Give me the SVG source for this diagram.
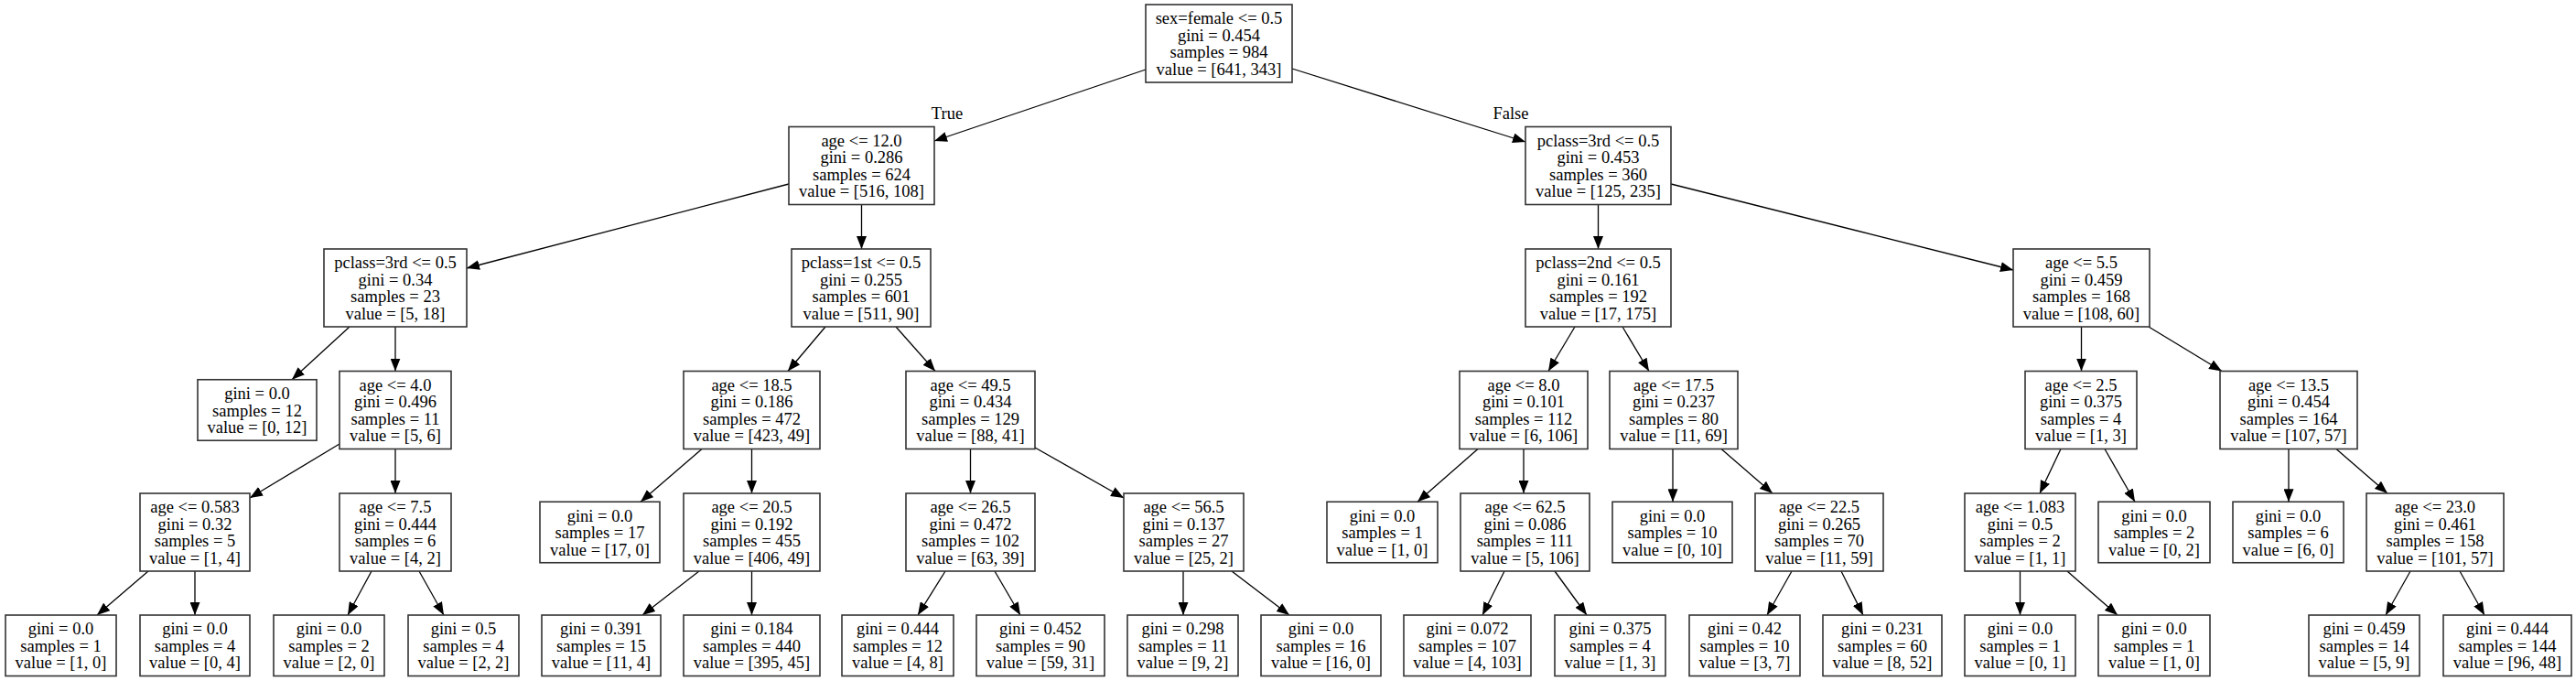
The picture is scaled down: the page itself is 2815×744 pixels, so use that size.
<svg xmlns="http://www.w3.org/2000/svg" width="2815" height="744" viewBox="0 0 2815 744">
<style>
.node rect{fill:#fff;stroke:#333;stroke-width:1.6}
.node text,.lbl{font-family:"Liberation Serif","Times New Roman",serif;font-size:18.5px;fill:#000;text-anchor:middle}
.edges line{stroke:#000;stroke-width:1.3;marker-end:url(#ah)}
</style>
<defs>
<marker id="ah" markerWidth="14" markerHeight="11" refX="14" refY="5.5" orient="auto" markerUnits="userSpaceOnUse"><path d="M0,0 L14,5.5 L0,11 z" fill="#000"/></marker>
</defs>
<rect width="2815" height="744" fill="#fff"/>
<g id="connectors" class="edges">
<line x1="1252" y1="76" x2="1021" y2="154"/>
<line x1="1412" y1="75" x2="1667" y2="155"/>
<line x1="862" y1="201" x2="510" y2="293"/>
<line x1="941.5" y1="223.5" x2="941.5" y2="272"/>
<line x1="382" y1="357" x2="319" y2="414.75"/>
<line x1="432" y1="357" x2="432" y2="405.5"/>
<line x1="371" y1="485" x2="273" y2="544"/>
<line x1="432" y1="490.5" x2="432" y2="539"/>
<line x1="162" y1="624" x2="106" y2="672"/>
<line x1="213" y1="624" x2="213" y2="672"/>
<line x1="406" y1="624" x2="380" y2="672"/>
<line x1="458" y1="624" x2="485" y2="672"/>
<line x1="902" y1="357" x2="861" y2="405.5"/>
<line x1="979" y1="357" x2="1022" y2="405.5"/>
<line x1="767" y1="490.5" x2="700" y2="548.25"/>
<line x1="821.5" y1="490.5" x2="821.5" y2="539"/>
<line x1="764" y1="624" x2="702" y2="672"/>
<line x1="821.5" y1="624" x2="821.5" y2="672"/>
<line x1="1060.5" y1="490.5" x2="1060.5" y2="539"/>
<line x1="1131" y1="489" x2="1228" y2="544"/>
<line x1="1033" y1="624" x2="1003" y2="672"/>
<line x1="1087" y1="624" x2="1115" y2="672"/>
<line x1="1293" y1="624" x2="1293" y2="672"/>
<line x1="1346" y1="624" x2="1409" y2="672"/>
<line x1="1746.5" y1="223.5" x2="1746.5" y2="272"/>
<line x1="1826" y1="201" x2="2200" y2="295"/>
<line x1="1721" y1="357" x2="1692" y2="405.5"/>
<line x1="1773" y1="357" x2="1802" y2="405.5"/>
<line x1="1615" y1="490.5" x2="1549" y2="548.25"/>
<line x1="1665" y1="490.5" x2="1665" y2="539"/>
<line x1="1644" y1="624" x2="1620" y2="672"/>
<line x1="1699" y1="624" x2="1734" y2="672"/>
<line x1="1828" y1="490.5" x2="1828" y2="548.25"/>
<line x1="1881" y1="490.5" x2="1937" y2="539"/>
<line x1="1958" y1="624" x2="1931" y2="672"/>
<line x1="2012" y1="624" x2="2036" y2="672"/>
<line x1="2274.5" y1="357" x2="2274.5" y2="405.5"/>
<line x1="2348" y1="357" x2="2428" y2="405.5"/>
<line x1="2252" y1="490.5" x2="2229" y2="539"/>
<line x1="2300" y1="490.5" x2="2333" y2="548.25"/>
<line x1="2207.5" y1="624" x2="2207.5" y2="672"/>
<line x1="2259" y1="624" x2="2314" y2="672"/>
<line x1="2501" y1="490.5" x2="2501" y2="548.25"/>
<line x1="2553" y1="490.5" x2="2609" y2="539"/>
<line x1="2634" y1="624" x2="2607" y2="672"/>
<line x1="2688" y1="624" x2="2715" y2="672"/>
<text class="lbl" x="1035" y="130">True</text>
<text class="lbl" x="1651" y="130">False</text>
</g>
<g id="n0" class="node"><rect x="1252" y="5" width="160" height="85"/><text x="1332" y="26.25">sex=female &lt;= 0.5</text><text x="1332" y="44.75">gini = 0.454</text><text x="1332" y="63.25">samples = 984</text><text x="1332" y="81.75">value = [641, 343]</text></g>
<g id="n1" class="node"><rect x="862" y="138.5" width="159" height="85"/><text x="941.5" y="159.75">age &lt;= 12.0</text><text x="941.5" y="178.25">gini = 0.286</text><text x="941.5" y="196.75">samples = 624</text><text x="941.5" y="215.25">value = [516, 108]</text></g>
<g id="n2" class="node"><rect x="354" y="272" width="156" height="85"/><text x="432" y="293.25">pclass=3rd &lt;= 0.5</text><text x="432" y="311.75">gini = 0.34</text><text x="432" y="330.25">samples = 23</text><text x="432" y="348.75">value = [5, 18]</text></g>
<g id="n3" class="node"><rect x="216" y="414.75" width="130" height="66.5"/><text x="281" y="436">gini = 0.0</text><text x="281" y="454.5">samples = 12</text><text x="281" y="473">value = [0, 12]</text></g>
<g id="n4" class="node"><rect x="371" y="405.5" width="122" height="85"/><text x="432" y="426.75">age &lt;= 4.0</text><text x="432" y="445.25">gini = 0.496</text><text x="432" y="463.75">samples = 11</text><text x="432" y="482.25">value = [5, 6]</text></g>
<g id="n5" class="node"><rect x="153" y="539" width="120" height="85"/><text x="213" y="560.25">age &lt;= 0.583</text><text x="213" y="578.75">gini = 0.32</text><text x="213" y="597.25">samples = 5</text><text x="213" y="615.75">value = [1, 4]</text></g>
<g id="n6" class="node"><rect x="6" y="672" width="121" height="66.5"/><text x="66.5" y="693.25">gini = 0.0</text><text x="66.5" y="711.75">samples = 1</text><text x="66.5" y="730.25">value = [1, 0]</text></g>
<g id="n7" class="node"><rect x="153" y="672" width="120" height="66.5"/><text x="213" y="693.25">gini = 0.0</text><text x="213" y="711.75">samples = 4</text><text x="213" y="730.25">value = [0, 4]</text></g>
<g id="n8" class="node"><rect x="371" y="539" width="122" height="85"/><text x="432" y="560.25">age &lt;= 7.5</text><text x="432" y="578.75">gini = 0.444</text><text x="432" y="597.25">samples = 6</text><text x="432" y="615.75">value = [4, 2]</text></g>
<g id="n9" class="node"><rect x="299" y="672" width="121" height="66.5"/><text x="359.5" y="693.25">gini = 0.0</text><text x="359.5" y="711.75">samples = 2</text><text x="359.5" y="730.25">value = [2, 0]</text></g>
<g id="n10" class="node"><rect x="446" y="672" width="121" height="66.5"/><text x="506.5" y="693.25">gini = 0.5</text><text x="506.5" y="711.75">samples = 4</text><text x="506.5" y="730.25">value = [2, 2]</text></g>
<g id="n11" class="node"><rect x="865" y="272" width="152" height="85"/><text x="941" y="293.25">pclass=1st &lt;= 0.5</text><text x="941" y="311.75">gini = 0.255</text><text x="941" y="330.25">samples = 601</text><text x="941" y="348.75">value = [511, 90]</text></g>
<g id="n12" class="node"><rect x="747" y="405.5" width="149" height="85"/><text x="821.5" y="426.75">age &lt;= 18.5</text><text x="821.5" y="445.25">gini = 0.186</text><text x="821.5" y="463.75">samples = 472</text><text x="821.5" y="482.25">value = [423, 49]</text></g>
<g id="n13" class="node"><rect x="590" y="548.25" width="131" height="66.5"/><text x="655.5" y="569.5">gini = 0.0</text><text x="655.5" y="588">samples = 17</text><text x="655.5" y="606.5">value = [17, 0]</text></g>
<g id="n14" class="node"><rect x="747" y="539" width="149" height="85"/><text x="821.5" y="560.25">age &lt;= 20.5</text><text x="821.5" y="578.75">gini = 0.192</text><text x="821.5" y="597.25">samples = 455</text><text x="821.5" y="615.75">value = [406, 49]</text></g>
<g id="n15" class="node"><rect x="592" y="672" width="130" height="66.5"/><text x="657" y="693.25">gini = 0.391</text><text x="657" y="711.75">samples = 15</text><text x="657" y="730.25">value = [11, 4]</text></g>
<g id="n16" class="node"><rect x="747" y="672" width="149" height="66.5"/><text x="821.5" y="693.25">gini = 0.184</text><text x="821.5" y="711.75">samples = 440</text><text x="821.5" y="730.25">value = [395, 45]</text></g>
<g id="n17" class="node"><rect x="990" y="405.5" width="141" height="85"/><text x="1060.5" y="426.75">age &lt;= 49.5</text><text x="1060.5" y="445.25">gini = 0.434</text><text x="1060.5" y="463.75">samples = 129</text><text x="1060.5" y="482.25">value = [88, 41]</text></g>
<g id="n18" class="node"><rect x="990" y="539" width="141" height="85"/><text x="1060.5" y="560.25">age &lt;= 26.5</text><text x="1060.5" y="578.75">gini = 0.472</text><text x="1060.5" y="597.25">samples = 102</text><text x="1060.5" y="615.75">value = [63, 39]</text></g>
<g id="n19" class="node"><rect x="920" y="672" width="122" height="66.5"/><text x="981" y="693.25">gini = 0.444</text><text x="981" y="711.75">samples = 12</text><text x="981" y="730.25">value = [4, 8]</text></g>
<g id="n20" class="node"><rect x="1067" y="672" width="140" height="66.5"/><text x="1137" y="693.25">gini = 0.452</text><text x="1137" y="711.75">samples = 90</text><text x="1137" y="730.25">value = [59, 31]</text></g>
<g id="n21" class="node"><rect x="1228" y="539" width="131" height="85"/><text x="1293.5" y="560.25">age &lt;= 56.5</text><text x="1293.5" y="578.75">gini = 0.137</text><text x="1293.5" y="597.25">samples = 27</text><text x="1293.5" y="615.75">value = [25, 2]</text></g>
<g id="n22" class="node"><rect x="1232" y="672" width="121" height="66.5"/><text x="1292.5" y="693.25">gini = 0.298</text><text x="1292.5" y="711.75">samples = 11</text><text x="1292.5" y="730.25">value = [9, 2]</text></g>
<g id="n23" class="node"><rect x="1378" y="672" width="131" height="66.5"/><text x="1443.5" y="693.25">gini = 0.0</text><text x="1443.5" y="711.75">samples = 16</text><text x="1443.5" y="730.25">value = [16, 0]</text></g>
<g id="n24" class="node"><rect x="1667" y="138.5" width="159" height="85"/><text x="1746.5" y="159.75">pclass=3rd &lt;= 0.5</text><text x="1746.5" y="178.25">gini = 0.453</text><text x="1746.5" y="196.75">samples = 360</text><text x="1746.5" y="215.25">value = [125, 235]</text></g>
<g id="n25" class="node"><rect x="1667" y="272" width="159" height="85"/><text x="1746.5" y="293.25">pclass=2nd &lt;= 0.5</text><text x="1746.5" y="311.75">gini = 0.161</text><text x="1746.5" y="330.25">samples = 192</text><text x="1746.5" y="348.75">value = [17, 175]</text></g>
<g id="n26" class="node"><rect x="1595" y="405.5" width="140" height="85"/><text x="1665" y="426.75">age &lt;= 8.0</text><text x="1665" y="445.25">gini = 0.101</text><text x="1665" y="463.75">samples = 112</text><text x="1665" y="482.25">value = [6, 106]</text></g>
<g id="n27" class="node"><rect x="1450" y="548.25" width="121" height="66.5"/><text x="1510.5" y="569.5">gini = 0.0</text><text x="1510.5" y="588">samples = 1</text><text x="1510.5" y="606.5">value = [1, 0]</text></g>
<g id="n28" class="node"><rect x="1596" y="539" width="141" height="85"/><text x="1666.5" y="560.25">age &lt;= 62.5</text><text x="1666.5" y="578.75">gini = 0.086</text><text x="1666.5" y="597.25">samples = 111</text><text x="1666.5" y="615.75">value = [5, 106]</text></g>
<g id="n29" class="node"><rect x="1534" y="672" width="139" height="66.5"/><text x="1603.5" y="693.25">gini = 0.072</text><text x="1603.5" y="711.75">samples = 107</text><text x="1603.5" y="730.25">value = [4, 103]</text></g>
<g id="n30" class="node"><rect x="1699" y="672" width="121" height="66.5"/><text x="1759.5" y="693.25">gini = 0.375</text><text x="1759.5" y="711.75">samples = 4</text><text x="1759.5" y="730.25">value = [1, 3]</text></g>
<g id="n31" class="node"><rect x="1759" y="405.5" width="140" height="85"/><text x="1829" y="426.75">age &lt;= 17.5</text><text x="1829" y="445.25">gini = 0.237</text><text x="1829" y="463.75">samples = 80</text><text x="1829" y="482.25">value = [11, 69]</text></g>
<g id="n32" class="node"><rect x="1762" y="548.25" width="131" height="66.5"/><text x="1827.5" y="569.5">gini = 0.0</text><text x="1827.5" y="588">samples = 10</text><text x="1827.5" y="606.5">value = [0, 10]</text></g>
<g id="n33" class="node"><rect x="1918" y="539" width="140" height="85"/><text x="1988" y="560.25">age &lt;= 22.5</text><text x="1988" y="578.75">gini = 0.265</text><text x="1988" y="597.25">samples = 70</text><text x="1988" y="615.75">value = [11, 59]</text></g>
<g id="n34" class="node"><rect x="1846" y="672" width="121" height="66.5"/><text x="1906.5" y="693.25">gini = 0.42</text><text x="1906.5" y="711.75">samples = 10</text><text x="1906.5" y="730.25">value = [3, 7]</text></g>
<g id="n35" class="node"><rect x="1992" y="672" width="130" height="66.5"/><text x="2057" y="693.25">gini = 0.231</text><text x="2057" y="711.75">samples = 60</text><text x="2057" y="730.25">value = [8, 52]</text></g>
<g id="n36" class="node"><rect x="2200" y="272" width="149" height="85"/><text x="2274.5" y="293.25">age &lt;= 5.5</text><text x="2274.5" y="311.75">gini = 0.459</text><text x="2274.5" y="330.25">samples = 168</text><text x="2274.5" y="348.75">value = [108, 60]</text></g>
<g id="n37" class="node"><rect x="2213" y="405.5" width="122" height="85"/><text x="2274" y="426.75">age &lt;= 2.5</text><text x="2274" y="445.25">gini = 0.375</text><text x="2274" y="463.75">samples = 4</text><text x="2274" y="482.25">value = [1, 3]</text></g>
<g id="n38" class="node"><rect x="2147" y="539" width="121" height="85"/><text x="2207.5" y="560.25">age &lt;= 1.083</text><text x="2207.5" y="578.75">gini = 0.5</text><text x="2207.5" y="597.25">samples = 2</text><text x="2207.5" y="615.75">value = [1, 1]</text></g>
<g id="n39" class="node"><rect x="2147" y="672" width="121" height="66.5"/><text x="2207.5" y="693.25">gini = 0.0</text><text x="2207.5" y="711.75">samples = 1</text><text x="2207.5" y="730.25">value = [0, 1]</text></g>
<g id="n40" class="node"><rect x="2293" y="672" width="122" height="66.5"/><text x="2354" y="693.25">gini = 0.0</text><text x="2354" y="711.75">samples = 1</text><text x="2354" y="730.25">value = [1, 0]</text></g>
<g id="n41" class="node"><rect x="2293" y="548.25" width="122" height="66.5"/><text x="2354" y="569.5">gini = 0.0</text><text x="2354" y="588">samples = 2</text><text x="2354" y="606.5">value = [0, 2]</text></g>
<g id="n42" class="node"><rect x="2426" y="405.5" width="150" height="85"/><text x="2501" y="426.75">age &lt;= 13.5</text><text x="2501" y="445.25">gini = 0.454</text><text x="2501" y="463.75">samples = 164</text><text x="2501" y="482.25">value = [107, 57]</text></g>
<g id="n43" class="node"><rect x="2440" y="548.25" width="121" height="66.5"/><text x="2500.5" y="569.5">gini = 0.0</text><text x="2500.5" y="588">samples = 6</text><text x="2500.5" y="606.5">value = [6, 0]</text></g>
<g id="n44" class="node"><rect x="2586" y="539" width="150" height="85"/><text x="2661" y="560.25">age &lt;= 23.0</text><text x="2661" y="578.75">gini = 0.461</text><text x="2661" y="597.25">samples = 158</text><text x="2661" y="615.75">value = [101, 57]</text></g>
<g id="n45" class="node"><rect x="2523" y="672" width="121" height="66.5"/><text x="2583.5" y="693.25">gini = 0.459</text><text x="2583.5" y="711.75">samples = 14</text><text x="2583.5" y="730.25">value = [5, 9]</text></g>
<g id="n46" class="node"><rect x="2670" y="672" width="140" height="66.5"/><text x="2740" y="693.25">gini = 0.444</text><text x="2740" y="711.75">samples = 144</text><text x="2740" y="730.25">value = [96, 48]</text></g>
</svg>
